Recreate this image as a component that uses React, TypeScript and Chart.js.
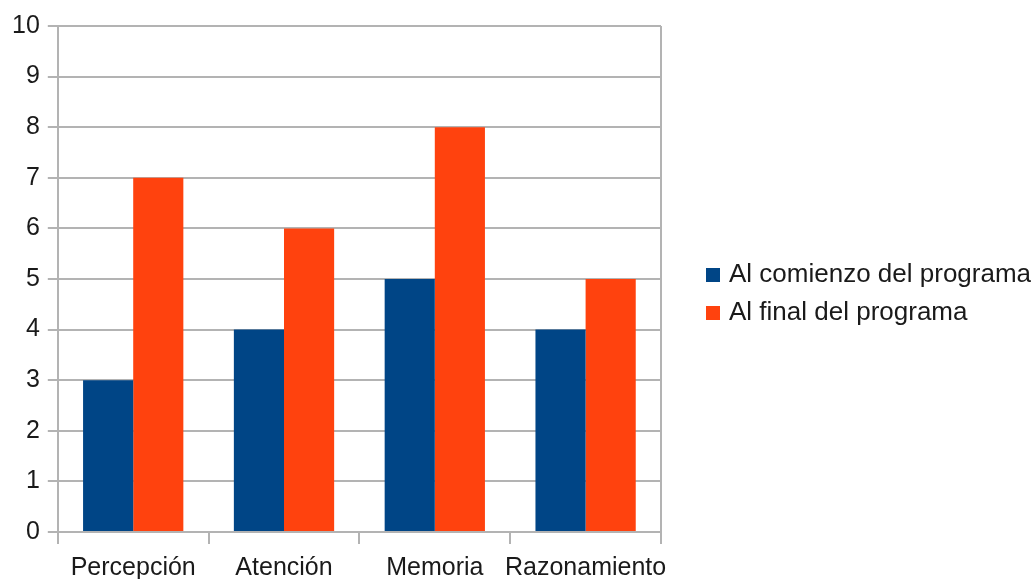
import React, { useEffect, useRef } from "react";
import { Chart, registerables } from "chart.js";

Chart.register(...registerables);

const categories = ["Percepción", "Atención", "Memoria", "Razonamiento"];
const seriesNames = ["Al comienzo del programa", "Al final del programa"];
const startValues = [3, 4, 5, 4];
const endValues = [7, 6, 8, 5];
const seriesColors = ["#004586", "#ff420e"];
const yTicks = [0, 1, 2, 3, 4, 5, 6, 7, 8, 9, 10];

const FONT = "'Liberation Sans', Arial, sans-serif";
const GRID = "#b3b3b3";
const TEXT = "#1a1a1a";

// Legend drawn to the right of the plot, square swatch + label per series.
const sideLegend = {
  id: "sideLegend",
  afterDraw(chart: any) {
    const { ctx, chartArea } = chart;
    const x0 = chartArea.right + 45;
    const yMid = (chartArea.top + chartArea.bottom) / 2;
    const rowGap = 38;
    ctx.save();
    ctx.font = `26px ${FONT}`;
    ctx.textBaseline = "middle";
    ctx.textAlign = "left";
    chart.data.datasets.forEach((ds: any, i: number) => {
      const y = yMid - 4 + i * rowGap;
      ctx.fillStyle = ds.backgroundColor;
      ctx.fillRect(x0, y - 7, 14, 14);
      ctx.fillStyle = TEXT;
      ctx.fillText(ds.label, x0 + 23, y);
    });
    ctx.restore();
  },
};

export default function App() {
  const canvasRef = useRef<HTMLCanvasElement | null>(null);

  useEffect(() => {
    if (!canvasRef.current) return;
    const lastLine = categories.length;
    const chart = new Chart(canvasRef.current, {
      type: "bar",
      data: {
        labels: categories,
        datasets: [
          {
            label: seriesNames[0],
            data: startValues,
            backgroundColor: seriesColors[0],
            barPercentage: 1,
            categoryPercentage: 0.665,
          },
          {
            label: seriesNames[1],
            data: endValues,
            backgroundColor: seriesColors[1],
            barPercentage: 1,
            categoryPercentage: 0.665,
          },
        ],
      },
      options: {
        animation: false,
        responsive: true,
        maintainAspectRatio: false,
        layout: { padding: { left: 4, top: 26, right: 374, bottom: 0 } },
        plugins: {
          legend: { display: false },
          tooltip: { enabled: false },
        },
        scales: {
          x: {
            grid: {
              offset: true,
              drawOnChartArea: true,
              color: (c: any) =>
                c.index === 0 || c.index === undefined || c.index === lastLine
                  ? GRID
                  : "rgba(0,0,0,0)",
              tickColor: GRID,
              tickLength: 12,
              lineWidth: 2,
            },
            border: { color: GRID, width: 2 },
            ticks: {
              color: TEXT,
              font: { family: FONT, size: 25 },
              padding: 9,
              autoSkip: false,
              maxRotation: 0,
              minRotation: 0,
            },
          },
          y: {
            min: 0,
            max: 10,
            afterBuildTicks: (axis: any) => {
              axis.ticks = yTicks.map((v) => ({ value: v }));
            },
            grid: {
              color: GRID,
              tickColor: GRID,
              tickLength: 10,
              lineWidth: 2,
            },
            border: { color: GRID, width: 2 },
            ticks: {
              color: TEXT,
              font: { family: FONT, size: 25 },
              padding: 8,
            },
          },
        },
      },
      plugins: [sideLegend],
    });
    return () => chart.destroy();
  }, []);

  return (
    <div
      style={{
        position: "fixed",
        left: 0,
        top: 0,
        width: 1035,
        height: 579,
        overflow: "hidden",
        background: "#fff",
      }}
    >
      <div style={{ position: "relative", width: 1035, height: 592 }}>
        <canvas ref={canvasRef} />
      </div>
    </div>
  );
}
